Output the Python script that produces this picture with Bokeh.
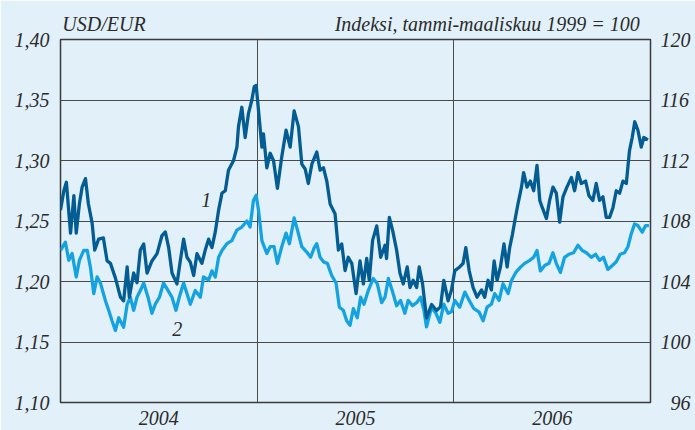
from bokeh.plotting import figure
from bokeh.models import Range1d, LinearAxis, FixedTicker, Label
from bokeh.embed import file_html
from bokeh.resources import INLINE

# ---- data (time in fractional years) ----
usd_t = [2004.000, 2004.017, 2004.030, 2004.051, 2004.068, 2004.080, 2004.096, 2004.110, 2004.127, 2004.142,
         2004.161, 2004.174, 2004.194, 2004.218, 2004.237, 2004.254, 2004.279, 2004.305, 2004.321, 2004.339,
         2004.350, 2004.372, 2004.389, 2004.406, 2004.423, 2004.440, 2004.465, 2004.491, 2004.516, 2004.533,
         2004.550, 2004.567, 2004.592, 2004.609, 2004.626, 2004.643, 2004.660, 2004.677, 2004.694, 2004.719,
         2004.736, 2004.753, 2004.770, 2004.787, 2004.804, 2004.821, 2004.838, 2004.854, 2004.880, 2004.897,
         2004.905, 2004.922, 2004.939, 2004.956, 2004.973, 2004.985, 2004.995, 2005.007, 2005.024, 2005.032,
         2005.049, 2005.066, 2005.083, 2005.103, 2005.125, 2005.147, 2005.168, 2005.188, 2005.210, 2005.227,
         2005.244, 2005.260, 2005.278, 2005.303, 2005.320, 2005.337, 2005.354, 2005.371, 2005.396, 2005.413,
         2005.430, 2005.447, 2005.463, 2005.481, 2005.503, 2005.523, 2005.540, 2005.557, 2005.570, 2005.587,
         2005.608, 2005.628, 2005.650, 2005.658, 2005.672, 2005.689, 2005.709, 2005.726, 2005.743, 2005.763,
         2005.777, 2005.793, 2005.811, 2005.824, 2005.841, 2005.861, 2005.887, 2005.912, 2005.932, 2005.949,
         2005.971, 2005.988, 2006.005, 2006.030, 2006.047, 2006.061, 2006.078, 2006.098, 2006.118, 2006.141,
         2006.157, 2006.174, 2006.191, 2006.205, 2006.220, 2006.237, 2006.255, 2006.271, 2006.284, 2006.298,
         2006.310, 2006.326, 2006.344, 2006.355, 2006.372, 2006.389, 2006.406, 2006.423, 2006.437, 2006.450,
         2006.471, 2006.487, 2006.504, 2006.521, 2006.538, 2006.555, 2006.575, 2006.598, 2006.614, 2006.631,
         2006.648, 2006.670, 2006.687, 2006.707, 2006.724, 2006.741, 2006.758, 2006.775, 2006.792, 2006.809,
         2006.826, 2006.843, 2006.860, 2006.877, 2006.893, 2006.907, 2006.920, 2006.936, 2006.953, 2006.966,
         2006.987]
usd_eur = [1.259, 1.275, 1.282, 1.240, 1.271, 1.240, 1.264, 1.278, 1.285, 1.264,
           1.248, 1.226, 1.235, 1.236, 1.217, 1.215, 1.203, 1.187, 1.184, 1.212,
           1.187, 1.207, 1.199, 1.226, 1.231, 1.207, 1.217, 1.223, 1.238, 1.241,
           1.228, 1.207, 1.198, 1.217, 1.235, 1.220, 1.216, 1.205, 1.223, 1.215,
           1.226, 1.235, 1.228, 1.241, 1.259, 1.273, 1.275, 1.292, 1.300, 1.311,
           1.328, 1.344, 1.319, 1.339, 1.350, 1.361, 1.362, 1.341, 1.311, 1.322,
           1.294, 1.306, 1.300, 1.277, 1.303, 1.325, 1.311, 1.341, 1.328, 1.297,
           1.293, 1.281, 1.297, 1.307, 1.292, 1.294, 1.283, 1.264, 1.256, 1.226,
           1.231, 1.209, 1.220, 1.215, 1.190, 1.217, 1.198, 1.219, 1.201, 1.234,
           1.246, 1.220, 1.230, 1.219, 1.253, 1.242, 1.226, 1.207, 1.198, 1.212,
           1.195, 1.201, 1.195, 1.212, 1.198, 1.170, 1.181, 1.176, 1.179, 1.201,
           1.184, 1.193, 1.209, 1.212, 1.215, 1.228, 1.209, 1.195, 1.187, 1.193,
           1.187, 1.201, 1.193, 1.217, 1.201, 1.212, 1.231, 1.212, 1.228, 1.239,
           1.250, 1.264, 1.278, 1.290, 1.278, 1.283, 1.275, 1.296, 1.267, 1.261,
           1.252, 1.267, 1.278, 1.273, 1.249, 1.270, 1.278, 1.286, 1.275, 1.290,
           1.281, 1.283, 1.271, 1.267, 1.281, 1.267, 1.270, 1.253, 1.253, 1.261,
           1.275, 1.273, 1.283, 1.281, 1.308, 1.319, 1.332, 1.325, 1.311, 1.319,
           1.317]

idx_t = [2004.000, 2004.025, 2004.042, 2004.059, 2004.080, 2004.096, 2004.118, 2004.136, 2004.152, 2004.169,
         2004.186, 2004.203, 2004.228, 2004.245, 2004.262, 2004.279, 2004.296, 2004.321, 2004.339, 2004.355,
         2004.372, 2004.389, 2004.406, 2004.423, 2004.445, 2004.465, 2004.482, 2004.503, 2004.524, 2004.547,
         2004.567, 2004.587, 2004.604, 2004.626, 2004.643, 2004.660, 2004.685, 2004.711, 2004.727, 2004.753,
         2004.770, 2004.787, 2004.804, 2004.821, 2004.846, 2004.871, 2004.897, 2004.922, 2004.948, 2004.964,
         2004.981, 2004.995, 2005.007, 2005.024, 2005.049, 2005.066, 2005.086, 2005.103, 2005.125, 2005.147,
         2005.164, 2005.188, 2005.205, 2005.227, 2005.252, 2005.272, 2005.289, 2005.303, 2005.320, 2005.337,
         2005.357, 2005.379, 2005.401, 2005.418, 2005.438, 2005.455, 2005.472, 2005.489, 2005.509, 2005.526,
         2005.543, 2005.565, 2005.590, 2005.611, 2005.633, 2005.650, 2005.667, 2005.689, 2005.709, 2005.729,
         2005.751, 2005.768, 2005.790, 2005.811, 2005.831, 2005.848, 2005.861, 2005.887, 2005.909, 2005.929,
         2005.949, 2005.971, 2005.988, 2006.005, 2006.030, 2006.056, 2006.078, 2006.102, 2006.129, 2006.149,
         2006.169, 2006.191, 2006.208, 2006.230, 2006.250, 2006.276, 2006.293, 2006.315, 2006.339, 2006.360,
         2006.386, 2006.406, 2006.423, 2006.440, 2006.462, 2006.484, 2006.504, 2006.521, 2006.542, 2006.563,
         2006.585, 2006.609, 2006.631, 2006.653, 2006.674, 2006.699, 2006.721, 2006.741, 2006.761, 2006.783,
         2006.806, 2006.826, 2006.846, 2006.868, 2006.885, 2006.902, 2006.919, 2006.936, 2006.958, 2006.975,
         2006.992]
index_1999 = [106.05, 106.6, 105.4, 105.85, 104.3, 105.4, 106.05, 106.05, 104.95, 103.2,
              104.3, 103.9, 102.75, 102.1, 101.4, 100.76, 101.6, 100.98, 102.5, 102.96,
              102.1, 102.96, 103.4, 103.9, 102.96, 101.9, 102.5, 102.96, 103.9, 103.4,
              102.96, 102.1, 102.96, 103.9, 103.2, 102.5, 103.4, 102.96, 104.3, 104.1,
              104.7, 104.3, 105.6, 106.05, 106.5, 106.7, 107.4, 107.6, 108.0, 107.6,
              109.35, 109.7, 108.7, 106.7, 105.85, 106.3, 106.3, 105.2, 106.3, 107.2,
              106.5, 108.2, 107.4, 106.3, 105.95, 105.6, 106.2, 106.5, 105.6, 105.3,
              105.2, 104.4, 103.9, 102.3, 102.1, 101.4, 101.1, 102.2, 101.6, 102.96,
              102.5, 103.4, 104.2, 103.85, 102.6, 102.96, 104.2, 103.3, 102.4, 102.75,
              101.9, 102.75, 102.4, 102.6, 102.96, 102.1, 101.0, 102.3, 101.9, 101.3,
              102.5, 101.9, 102.0, 102.75, 102.3, 103.3, 102.75, 102.2, 101.97, 101.4,
              102.3, 102.5, 103.2, 102.75, 103.85, 103.2, 104.07, 104.6, 104.95, 105.2,
              105.4, 105.6, 106.05, 104.7, 105.06, 105.2, 105.9, 105.2, 104.6, 105.6,
              105.8, 105.9, 106.4, 106.05, 105.9, 105.6, 105.8, 105.4, 105.6, 104.8,
              105.06, 105.3, 105.8, 105.9, 106.3, 107.15, 107.8, 107.7, 107.26, 107.7,
              107.7]

year_ticks = [2004.5, 2005.5, 2006.5]
year_labels = ["2004", "2005", "2006"]
year_bounds = [2005, 2006]
left_ticks = [1.10, 1.15, 1.20, 1.25, 1.30, 1.35, 1.40]
left_labels = ["1,10", "1,15", "1,20", "1,25", "1,30", "1,35", "1,40"]
right_ticks = [96, 100, 104, 108, 112, 116, 120]
right_labels = ["\u200796", "100", "104", "108", "112", "116", "120"]
unit_pos = [2004.221, 2006.170]
unit_labels = ["USD/EUR", "Indeksi, tammi-maaliskuu 1999 = 100"]

BG = "#e1f0f9"
DARK = "#045d92"
LIGHT = "#14a3e0"
INK = "#2b2b2b"
GRID = "#4a4a4a"
FONT = "Liberation Serif"

p = figure(frame_width=590, frame_height=363, x_range=Range1d(2004, 2007), y_range=Range1d(1.10, 1.40),
           output_backend="svg", toolbar_location=None,
           min_border_left=60, min_border_right=45, min_border_top=39, min_border_bottom=28)
p.background_fill_color = BG
p.border_fill_color = BG
p.outline_line_color = "#3a3a3a"
p.outline_line_width = 1.5

p.extra_y_ranges = {"idx": Range1d(96, 120)}
right = LinearAxis(y_range_name="idx")
p.add_layout(right, "right")
top = LinearAxis()
p.add_layout(top, "above")
bottom = p.below[0]
left = p.left[0]

for ax in (bottom, left, right, top):
    ax.axis_line_color = None
    ax.major_tick_line_color = None
    ax.minor_tick_line_color = None
    ax.major_tick_in = 0
    ax.major_tick_out = 0
    ax.minor_tick_out = 0
    ax.major_label_text_font = FONT
    ax.major_label_text_font_style = "italic"
    ax.major_label_text_font_size = "20px"
    ax.major_label_text_color = INK

bottom.ticker = FixedTicker(ticks=year_ticks)
bottom.major_label_overrides = dict(zip(year_ticks, year_labels))
bottom.major_label_standoff = 8
left.ticker = FixedTicker(ticks=left_ticks)
left.major_label_overrides = dict(zip(left_ticks, left_labels))
left.major_label_standoff = 11
right.ticker = FixedTicker(ticks=right_ticks)
right.major_label_overrides = dict(zip(right_ticks, right_labels))
right.major_label_standoff = 10
top.ticker = FixedTicker(ticks=unit_pos)
top.major_label_overrides = dict(zip(unit_pos, unit_labels))
top.major_label_standoff = 5

p.xgrid.ticker = FixedTicker(ticks=year_bounds)
p.xgrid.grid_line_color = GRID
p.xgrid.grid_line_width = 1
p.ygrid.ticker = FixedTicker(ticks=left_ticks)
p.ygrid.grid_line_color = GRID
p.ygrid.grid_line_width = 1

p.line(idx_t, index_1999, y_range_name="idx", line_color=LIGHT, line_width=3.3, line_join="round")
p.line(usd_t, usd_eur, line_color=DARK, line_width=3.3, line_join="round")

lab_kw = dict(text_font=FONT, text_font_style="italic", text_font_size="20px", text_color=INK)
p.add_layout(Label(x=2004.741, y=1.267, text="1", text_align="center", text_baseline="middle", **lab_kw))
p.add_layout(Label(x=2004.594, y=1.161, text="2", text_align="center", text_baseline="middle", **lab_kw))

open("out.html", "w").write(file_html(p, INLINE))
